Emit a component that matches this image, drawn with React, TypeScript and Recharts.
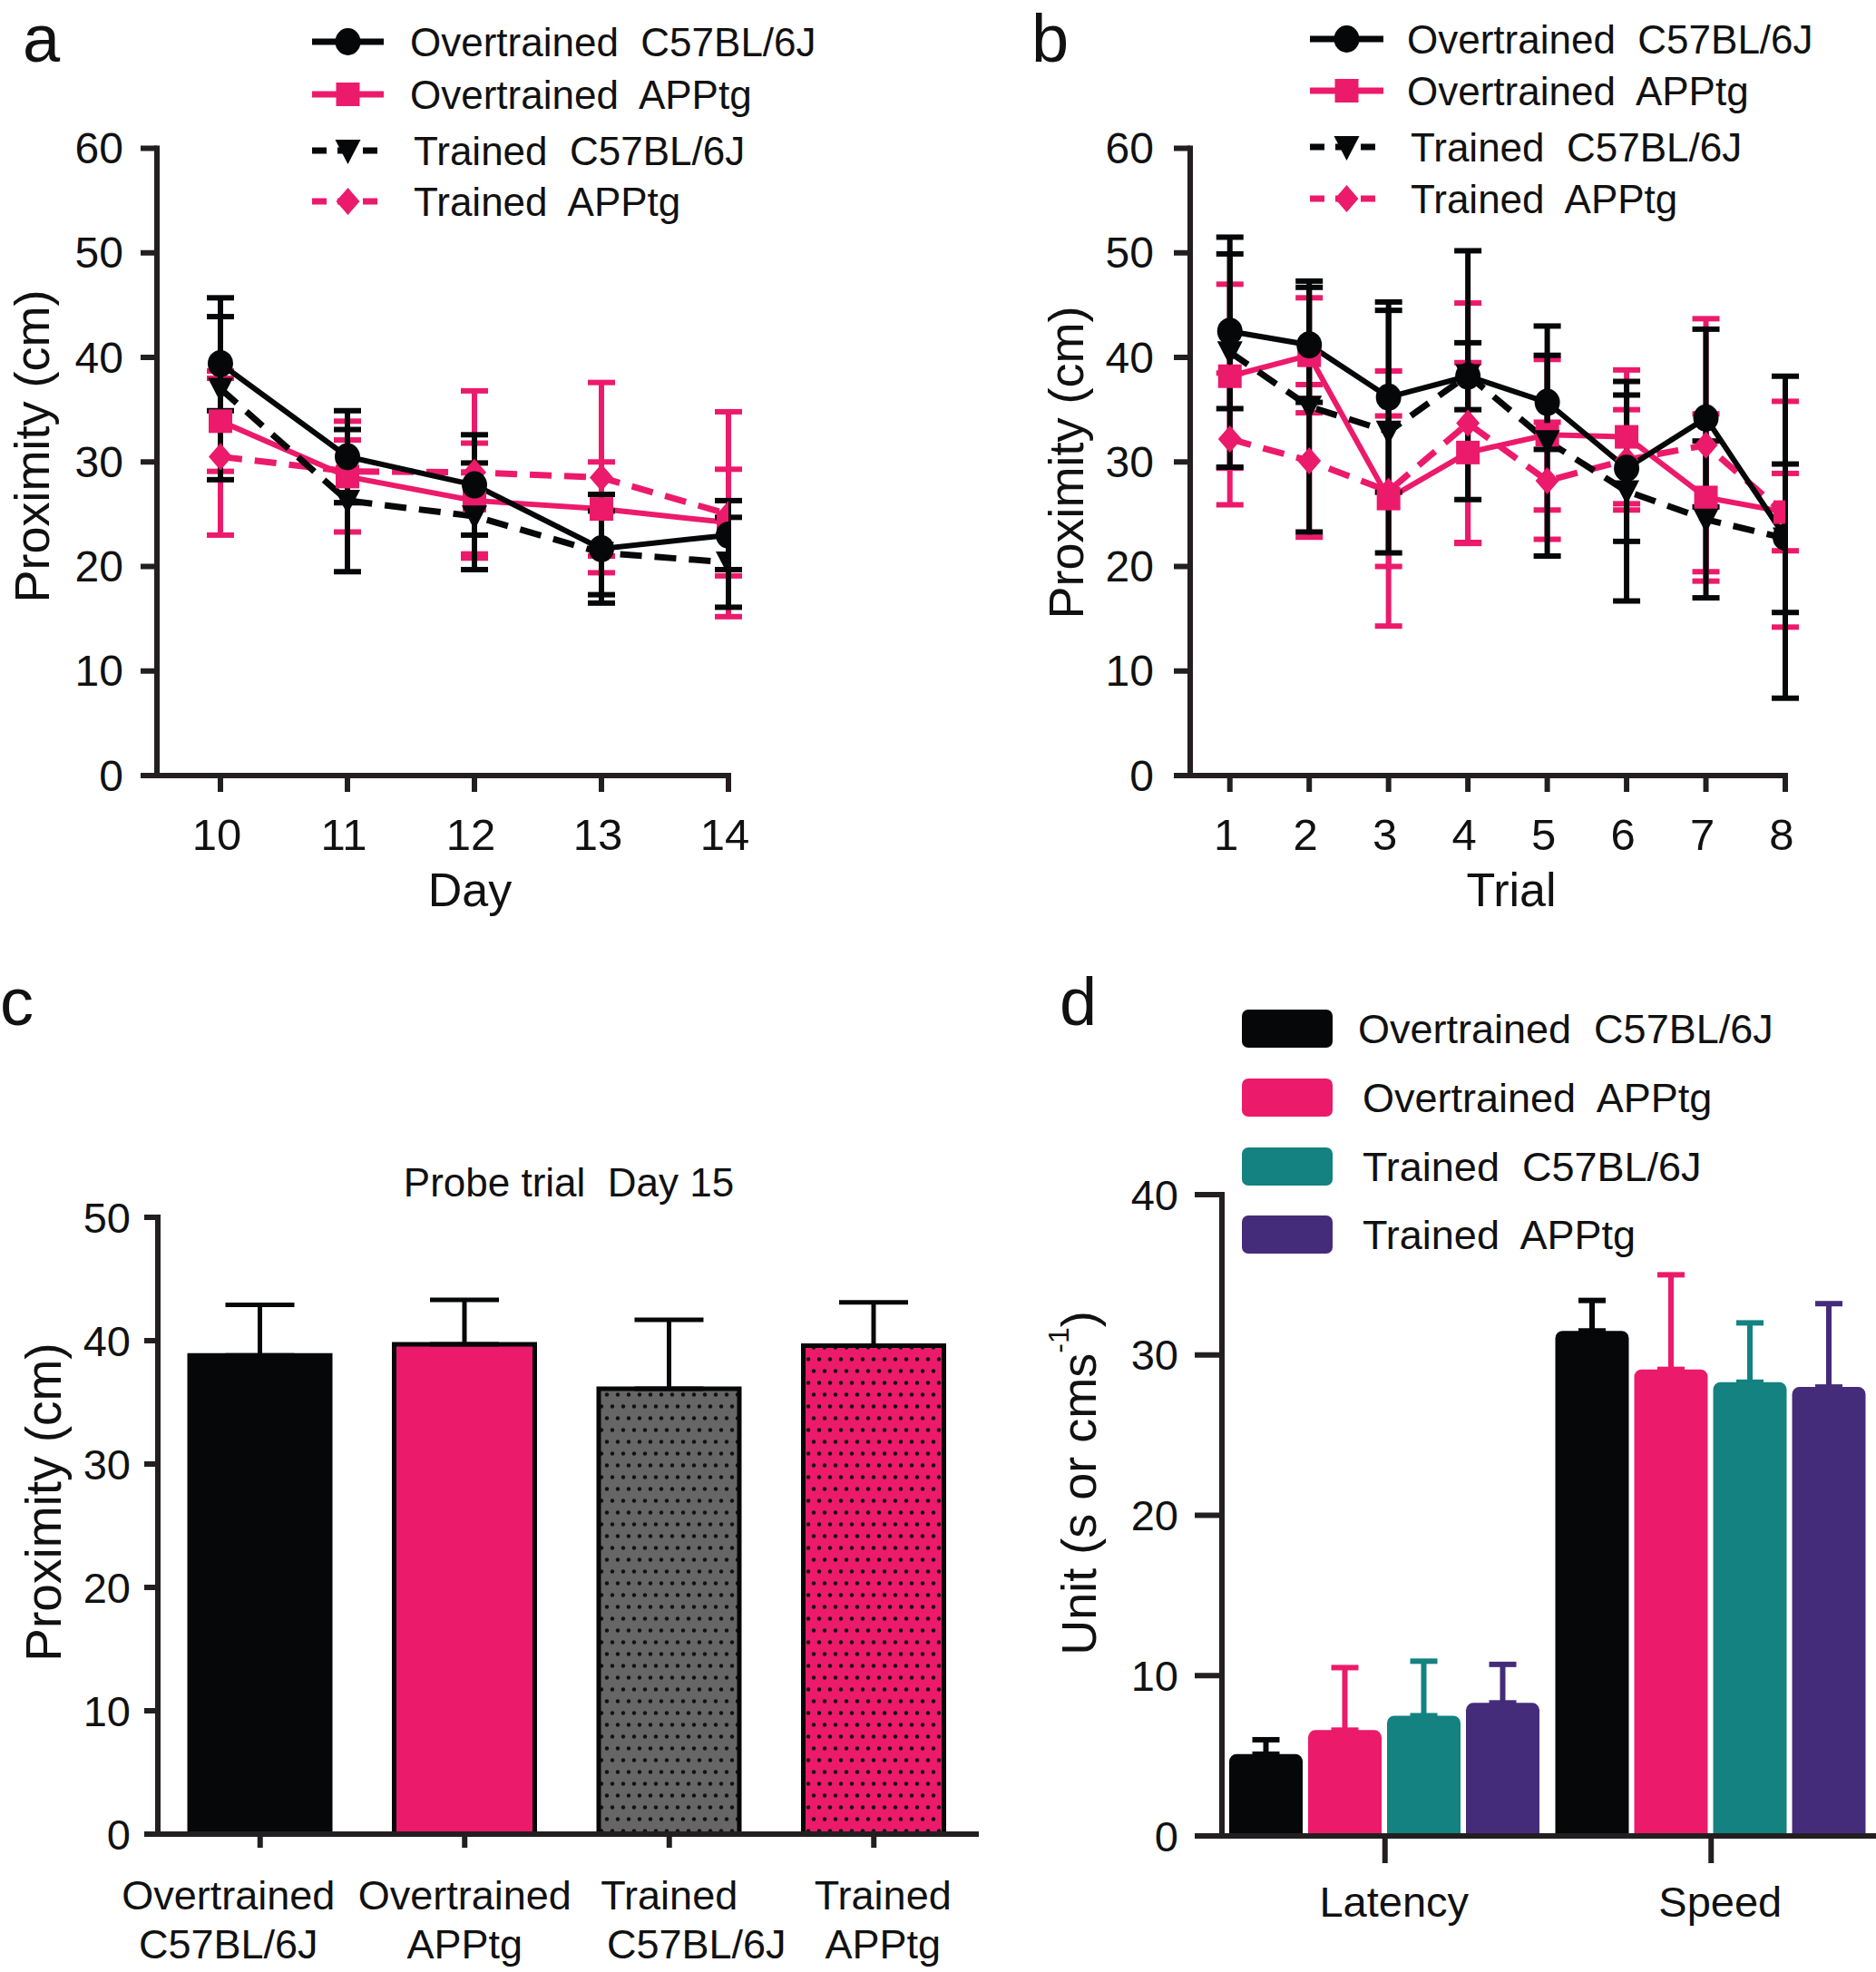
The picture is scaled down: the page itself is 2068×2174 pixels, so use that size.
import React from "react";
import { LineChart, Line, BarChart, Bar, XAxis, YAxis, ErrorBar, Cell, Legend } from "recharts";

const FONT = '"Liberation Sans", Arial, Helvetica, sans-serif';
const INK = "#231f20";
const BLACK = "#060708";
const PINK = "#ec1a6b";
const TEAL = "#138280";
const PURPLE = "#452c7a";
const GRAY = "#666666";

// panel a: days 10-14
const days = [10, 11, 12, 13, 14];
const dayOverC57 = [39.4, 30.5, 27.8, 21.7, 23.0];
const dayOverC57Err = [4.5, 4.4, 4.8, 5.2, 3.3];
const dayOverApp = [33.9, 28.6, 26.3, 25.5, 24.2];
const dayOverAppErr = [4.8, 5.3, 5.5, 4.5, 5.1];
const dayTrC57 = [37.0, 26.3, 24.8, 21.3, 20.4];
const dayTrC57Err = [8.7, 6.8, 5.1, 4.0, 4.3];
const dayTrApp = [30.5, 29.1, 29.0, 28.5, 25.0];
const dayTrAppErr = [7.5, 3.0, 7.8, 9.1, 9.8];

// panel b: trials 1-8
const trials = [1, 2, 3, 4, 5, 6, 7, 8];
const trOverC57 = [42.5, 41.2, 36.2, 38.2, 35.7, 29.4, 34.2, 22.8];
const trOverC57Err = [7.4, 5.5, 9.1, 3.2, 4.5, 7.0, 8.5, 15.4];
const trOverApp = [38.2, 40.2, 26.5, 30.9, 32.6, 32.4, 26.6, 25.2];
const trOverAppErr = [8.8, 5.5, 12.2, 8.6, 7.2, 6.4, 8.0, 3.7];
const trTrC57 = [40.5, 35.3, 32.9, 38.3, 32.0, 27.2, 24.5, 22.7];
const trTrC57Err = [11.0, 12.0, 11.6, 11.9, 11.0, 10.5, 7.5, 7.1];
const trTrApp = [32.2, 30.1, 27.2, 33.7, 28.2, 30.2, 31.6, 25.0];
const trTrAppErr = [6.3, 7.3, 7.2, 11.5, 5.6, 4.8, 12.1, 10.8];

// panel c: probe trial day 15
const groups = ["Overtrained C57BL/6J", "Overtrained APPtg", "Trained C57BL/6J", "Trained APPtg"];
const probe = [38.8, 39.7, 36.1, 39.6];
const probeErr = [4.1, 3.6, 5.6, 3.5];

// panel d: latency / speed
const measures = ["Latency", "Speed"];
const dOverC57 = [5.1, 31.5];
const dOverC57Err = [0.9, 1.9];
const dOverApp = [6.6, 29.1];
const dOverAppErr = [3.9, 5.9];
const dTrC57 = [7.5, 28.3];
const dTrC57Err = [3.4, 3.7];
const dTrApp = [8.3, 28.0];
const dTrAppErr = [2.4, 5.2];

const legendNames = ["Overtrained  C57BL/6J", "Overtrained  APPtg", "Trained  C57BL/6J", "Trained  APPtg"];

type Kind = "circle" | "square" | "triangle" | "diamond";

const lineSeries = [
  { key: "oapp", color: PINK, dash: undefined as string | undefined, kind: "square" as Kind },
  { key: "tapp", color: PINK, dash: "24 14", kind: "diamond" as Kind },
  { key: "tc57", color: BLACK, dash: "24 14", kind: "triangle" as Kind },
  { key: "oc57", color: BLACK, dash: undefined as string | undefined, kind: "circle" as Kind },
];
// legend order
const legendSeries = [lineSeries[3], lineSeries[0], lineSeries[2], lineSeries[1]];

const rowsA = days.map((x, i) => ({
  x,
  oc57: dayOverC57[i], oc57Err: dayOverC57Err[i],
  oapp: dayOverApp[i], oappErr: dayOverAppErr[i],
  tc57: dayTrC57[i], tc57Err: dayTrC57Err[i],
  tapp: dayTrApp[i], tappErr: dayTrAppErr[i],
}));

const rowsB = trials.map((x, i) => ({
  x,
  oc57: trOverC57[i], oc57Err: trOverC57Err[i],
  oapp: trOverApp[i], oappErr: trOverAppErr[i],
  tc57: trTrC57[i], tc57Err: trTrC57Err[i],
  tapp: trTrApp[i], tappErr: trTrAppErr[i],
}));

const rowsC = groups.map((name, i) => ({ name, value: probe[i], err: [0, probeErr[i]] }));
const fillsC = [BLACK, PINK, "url(#dotsGray)", "url(#dotsPink)"];

const rowsD = measures.map((name, i) => ({
  name,
  oc57: dOverC57[i], oc57Err: [0, dOverC57Err[i]],
  oapp: dOverApp[i], oappErr: [0, dOverAppErr[i]],
  tc57: dTrC57[i], tc57Err: [0, dTrC57Err[i]],
  tapp: dTrApp[i], tappErr: [0, dTrAppErr[i]],
}));
const barSeriesD = [
  { key: "oc57", color: BLACK },
  { key: "oapp", color: PINK },
  { key: "tc57", color: TEAL },
  { key: "tapp", color: PURPLE },
];

function Marker({ kind, cx, cy, color }: { kind: Kind; cx: number; cy: number; color: string }) {
  if (kind === "circle") return <ellipse cx={cx} cy={cy} rx={14} ry={15} fill={color} />;
  if (kind === "square") return <rect x={cx - 13} y={cy - 13} width={26} height={26} fill={color} />;
  if (kind === "triangle")
    return <path d={`M${cx - 14},${cy - 12}L${cx + 14},${cy - 12}L${cx},${cy + 15}Z`} fill={color} />;
  return <path d={`M${cx},${cy - 15}L${cx + 13},${cy}L${cx},${cy + 15}L${cx - 13},${cy}Z`} fill={color} />;
}

const axisLine = { stroke: INK, strokeWidth: 6, strokeLinecap: "square" as const };
const tickLine = { stroke: INK, strokeWidth: 6 };

const yTick = (fs: number) => (p: any) => (
  <text x={p.x} y={p.y} textAnchor="end" dominantBaseline="central" fontSize={fs} fontFamily={FONT} fill="#111">
    {p.payload.value}
  </text>
);

const xTick = (dy: number, fs: number, dx = 0) => (p: any) => (
  <text x={p.x + dx} y={p.y + dy} textAnchor="middle" fontSize={fs} fontFamily={FONT} fill="#111">
    {p.payload.value}
  </text>
);

// the probe labels are not quite centred under their ticks in the original
const labelShift = [[-35, -35], [0, 0], [0, 30], [10, 10]];

const twoLineTick = (p: any) => {
  const words = String(p.payload.value).split(" ");
  const sh = labelShift[p.index] ?? [0, 0];
  return (
    <text textAnchor="middle" fontSize={45} fontFamily={FONT} fill="#111">
      <tspan x={p.x + sh[0]} y={p.y + 68}>{words[0]}</tspan>
      <tspan x={p.x + sh[1]} y={p.y + 122}>{words[1]}</tspan>
    </text>
  );
};

function RotLabel({ px, py, fs, children }: { px: number; py: number; fs: number; children: React.ReactNode }) {
  return (
    <text
      transform={`translate(${px},${py}) rotate(-90)`}
      textAnchor="middle"
      dominantBaseline="central"
      fontSize={fs}
      fontFamily={FONT}
      fill="#111"
    >
      {children}
    </text>
  );
}

function PlainLabel({ px, py, fs, text }: { px: number; py: number; fs: number; text: string }) {
  return (
    <text x={px} y={py} textAnchor="middle" fontSize={fs} fontFamily={FONT} fill="#111" style={{ whiteSpace: "pre" }}>
      {text}
    </text>
  );
}

function LineLegend({ w, x1, x2, tx, ys }: { w: number; x1: number; x2: number; tx: number; ys: number[] }) {
  return (
    <svg width={w} height={260} style={{ overflow: "visible" }}>
      {legendSeries.map((s, i) => {
        const y = ys[i];
        const cx = (x1 + x2) / 2;
        return (
          <g key={s.key}>
            <line x1={x1} y1={y} x2={x2} y2={y} stroke={s.color} strokeWidth={7} strokeDasharray={s.dash ? "16 12" : undefined} />
            <Marker kind={s.kind} cx={cx} cy={y} color={s.color} />
            <text x={tx + (i >= 2 ? 4 : 0)} y={y + 16} fontSize={44} fontFamily={FONT} fill="#111" style={{ whiteSpace: "pre" }}>
              {legendNames[i]}
            </text>
          </g>
        );
      })}
    </svg>
  );
}

function BarLegend({ w }: { w: number }) {
  const ys = [84, 160, 236, 311];
  return (
    <svg width={w} height={360} style={{ overflow: "visible" }}>
      {barSeriesD.map((s, i) => (
        <g key={s.key}>
          <rect x={239} y={ys[i] - 21} width={100} height={42} rx={7} fill={s.color} />
          <text x={i === 0 ? 367 : 372} y={ys[i] + 16} fontSize={45} fontFamily={FONT} fill="#111" style={{ whiteSpace: "pre" }}>
            {legendNames[i]}
          </text>
        </g>
      ))}
    </svg>
  );
}

function PanelLetter({ x, y, t }: { x: number; y: number; t: string }) {
  return (
    <div style={{ position: "absolute", left: x, top: y, fontFamily: FONT, fontSize: 74, lineHeight: 1, color: "#111" }}>{t}</div>
  );
}

function LinePanel({
  rows, width, yAxisWidth, domain, ticks, xLabel, xLabelX, yLabelX, yLabelY, yTickMargin, legend,
}: {
  rows: any[]; width: number; yAxisWidth: number; domain: [number, number]; ticks: number[];
  xLabel: string; xLabelX: number; yLabelX: number; yLabelY: number; yTickMargin: number;
  legend: { x1: number; x2: number; tx: number; ys: number[] };
}) {
  const plotRight = width - (width === 1000 ? 197 : 100);
  return (
    <LineChart
      width={width}
      height={1030}
      data={rows}
      margin={{ top: 163.5, right: width - plotRight, bottom: 75, left: 0 }}
    >
      <XAxis
        type="number"
        dataKey="x"
        domain={domain}
        ticks={ticks}
        allowDataOverflow
        height={100}
        tickSize={18}
        tickMargin={0}
        axisLine={axisLine}
        tickLine={tickLine}
        tick={xTick(64, 49, -4)}
        label={<PlainLabel px={xLabelX} py={999} fs={52} text={xLabel} />}
      />
      <YAxis
        type="number"
        domain={[0, 60]}
        ticks={[0, 10, 20, 30, 40, 50, 60]}
        width={yAxisWidth}
        tickSize={18}
        tickMargin={yTickMargin}
        axisLine={axisLine}
        tickLine={tickLine}
        tick={yTick(48)}
        label={<RotLabel px={yLabelX} py={yLabelY} fs={54}>Proximity (cm)</RotLabel>}
      />
      <Legend
        layout="vertical"
        align="center"
        verticalAlign="middle"
        wrapperStyle={{ left: 0, top: 0, width, height: 260 }}
        content={() => <LineLegend w={width} {...legend} />}
      />
      {lineSeries.map((s) => (
        <Line
          key={s.key}
          dataKey={s.key}
          stroke={s.color}
          strokeWidth={s.dash ? 7 : 6}
          strokeDasharray={s.dash}
          isAnimationActive={false}
          activeDot={false}
          dot={(p: any) => <Marker key={`${s.key}-${p.index}`} kind={s.kind} cx={p.cx} cy={p.cy} color={s.color} />}
        >
          <ErrorBar dataKey={`${s.key}Err`} direction="y" width={15} strokeWidth={6} stroke={s.color} isAnimationActive={false} />
        </Line>
      ))}
    </LineChart>
  );
}

export default function App() {
  return (
    <div style={{ position: "absolute", left: 0, top: 0, width: 2068, height: 2174, background: "#fff", overflow: "hidden" }}>
      {/* panel a */}
      <div style={{ position: "absolute", left: 0, top: 0 }}>
        <LinePanel
          rows={rowsA}
          width={1000}
          yAxisWidth={173}
          domain={[9.5, 14]}
          ticks={days}
          xLabel="Day"
          xLabelX={518}
          yLabelX={35}
          yLabelY={492}
          yTickMargin={19}
          legend={{ x1: 344, x2: 423, tx: 452, ys: [46, 104, 166, 222] }}
        />
      </div>
      <PanelLetter x={25} y={6} t="a" />

      {/* panel b */}
      <div style={{ position: "absolute", left: 1130, top: 0 }}>
        <LinePanel
          rows={rowsB}
          width={938}
          yAxisWidth={182}
          domain={[0.5, 8]}
          ticks={trials}
          xLabel="Trial"
          xLabelX={536}
          yLabelX={45}
          yLabelY={510}
          yTickMargin={22}
          legend={{ x1: 314, x2: 395, tx: 421, ys: [43, 100, 162, 219] }}
        />
      </div>
      <PanelLetter x={1137} y={6} t="b" />

      {/* panel c */}
      <div style={{ position: "absolute", left: 0, top: 1050 }}>
        <BarChart width={1100} height={1124} data={rowsC} margin={{ top: 292, right: 24, bottom: 0, left: 0 }} barSize={155}>
          <defs>
            <pattern id="dotsGray" width={12} height={26} patternUnits="userSpaceOnUse">
              <rect width={12} height={26} fill={GRAY} />
              <circle cx={3} cy={6.5} r={2.2} fill="#111" />
              <circle cx={9} cy={19.5} r={2.2} fill="#111" />
            </pattern>
            <pattern id="dotsPink" width={12} height={26} patternUnits="userSpaceOnUse">
              <rect width={12} height={26} fill={PINK} />
              <circle cx={3} cy={6.5} r={2.2} fill="#111" />
              <circle cx={9} cy={19.5} r={2.2} fill="#111" />
            </pattern>
          </defs>
          <XAxis
            dataKey="name"
            height={152}
            tickSize={15}
            tickMargin={0}
            axisLine={axisLine}
            tickLine={tickLine}
            tick={twoLineTick}
            interval={0}
          />
          <YAxis
            type="number"
            domain={[0, 50]}
            ticks={[0, 10, 20, 30, 40, 50]}
            width={174}
            tickSize={15}
            tickMargin={15}
            axisLine={axisLine}
            tickLine={tickLine}
            tick={yTick(47)}
            label={<RotLabel px={48} py={606} fs={55}>Proximity (cm)</RotLabel>}
          />
          <Bar dataKey="value" stroke={BLACK} strokeWidth={5} isAnimationActive={false}>
            {rowsC.map((r, i) => (
              <Cell key={r.name} fill={fillsC[i]} />
            ))}
            <ErrorBar dataKey="err" direction="y" width={38} strokeWidth={5} stroke={BLACK} isAnimationActive={false} />
          </Bar>
        </BarChart>
        <svg style={{ position: "absolute", left: 0, top: 0, pointerEvents: "none" }} width={1100} height={300}>
          <PlainLabel px={627} py={269} fs={44} text="Probe trial  Day 15" />
        </svg>
      </div>
      <PanelLetter x={0} y={1068} t="c" />

      {/* panel d */}
      <div style={{ position: "absolute", left: 1130, top: 1050 }}>
        <BarChart
          width={938}
          height={1124}
          data={rowsD}
          margin={{ top: 267, right: 2, bottom: 0, left: 0 }}
          barCategoryGap={8}
          barGap={6}
        >
          <XAxis
            dataKey="name"
            height={150}
            tickSize={30}
            tickMargin={0}
            axisLine={axisLine}
            tickLine={tickLine}
            tick={xTick(59, 47, 10)}
            interval={0}
          />
          <YAxis
            type="number"
            domain={[0, 40]}
            ticks={[0, 10, 20, 30, 40]}
            width={217}
            tickSize={30}
            tickMargin={18}
            axisLine={axisLine}
            tickLine={tickLine}
            tick={yTick(47)}
            label={
              <RotLabel px={59} py={585} fs={54}>
                Unit (s or cms
                <tspan dy={-22} fontSize={32}>-1</tspan>
                <tspan dy={22}>)</tspan>
              </RotLabel>
            }
          />
          <Legend
            layout="vertical"
            align="center"
            verticalAlign="middle"
            wrapperStyle={{ left: 0, top: 0, width: 938, height: 360 }}
            content={() => <BarLegend w={938} />}
          />
          {barSeriesD.map((s) => (
            <Bar key={s.key} dataKey={s.key} fill={s.color} radius={[8, 8, 0, 0]} isAnimationActive={false}>
              <ErrorBar dataKey={`${s.key}Err`} direction="y" width={15} strokeWidth={6} stroke={s.color} isAnimationActive={false} />
            </Bar>
          ))}
        </BarChart>
      </div>
      <PanelLetter x={1168} y={1068} t="d" />
    </div>
  );
}
